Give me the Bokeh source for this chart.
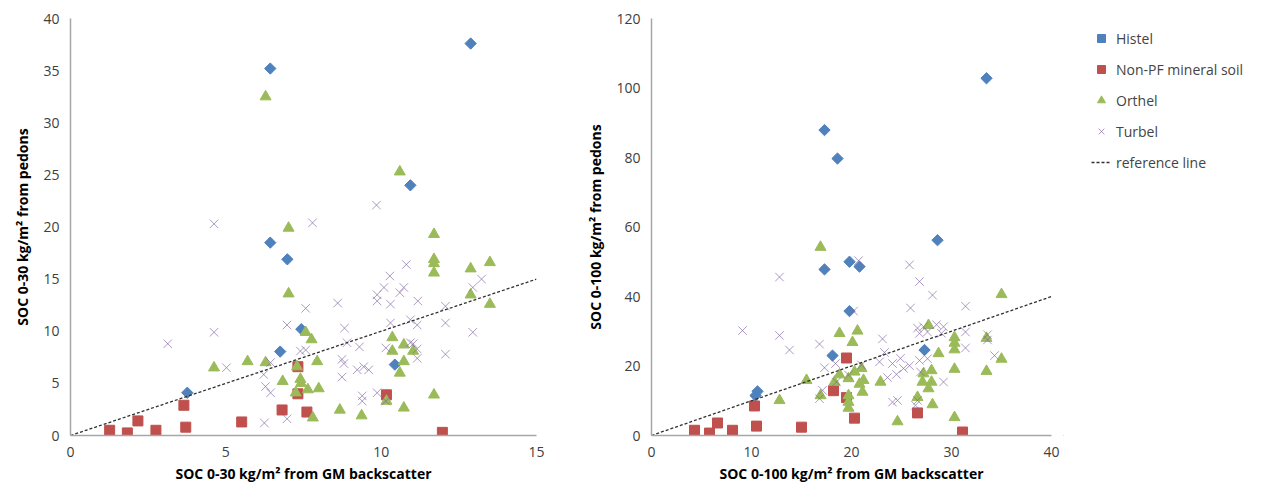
from math import pi
from bokeh.plotting import figure
from bokeh.layouts import row
from bokeh.models import Legend, LegendItem, FixedTicker
from bokeh.embed import file_html
from bokeh.resources import INLINE

# left panel: SOC 0-30 cm
histel_30_x = [6.43, 12.88, 10.94, 6.43, 6.98, 7.43, 6.75, 3.76, 10.44]
histel_30_y = [35.2, 37.6, 24.0, 18.5, 16.9, 10.2, 8.05, 4.1, 6.8]
nonpf_30_x = [1.26, 1.83, 2.17, 2.75, 3.65, 3.71, 5.51, 6.81, 7.61, 7.32, 7.32, 10.17, 11.97]
nonpf_30_y = [0.5, 0.25, 1.4, 0.5, 2.9, 0.8, 1.3, 2.45, 2.25, 6.6, 4.0, 3.9, 0.3]
orthel_30_x = [6.28, 10.6, 7.02, 11.7, 11.7, 11.7, 11.7, 12.88, 13.5, 12.88, 13.5, 7.02, 7.57, 7.76,
               4.62, 5.70, 6.28, 7.29, 7.40, 7.42, 6.83, 7.64, 7.25, 7.99, 7.94, 7.8, 8.67, 9.37,
               10.17, 10.73, 11.7, 10.36, 10.73, 11.03, 10.36, 10.73, 10.6]
orthel_30_y = [32.5, 25.3, 19.9, 19.3, 16.9, 16.5, 15.6, 16.0, 16.6, 13.5, 12.6, 13.6, 9.9, 9.2,
               6.5, 7.1, 7.0, 6.6, 5.4, 5.0, 5.2, 4.4, 4.1, 4.5, 7.1, 1.7, 2.45, 1.9,
               3.3, 2.65, 3.9, 9.4, 8.7, 8.1, 8.1, 7.1, 6.0]
turbel_30_x = [4.62, 7.79, 9.85, 3.13, 4.62, 5.02, 10.81, 10.28, 10.09, 10.73, 10.6, 9.87, 9.87, 10.3,
               11.18, 12.07, 12.95, 13.23, 8.6, 7.57, 6.97, 8.82, 10.3, 10.94, 11.16, 12.07, 12.95,
               8.9, 9.3, 10.15, 10.94, 11.16, 12.07, 7.40, 7.57, 6.44, 6.22, 6.28, 6.44, 8.74, 8.8,
               9.23, 9.44, 9.6, 8.74, 9.39, 9.39, 9.87, 10.15, 6.24, 6.97, 11.16, 11.03]
turbel_30_y = [20.3, 20.4, 22.1, 8.8, 9.9, 6.5, 16.4, 15.3, 14.2, 14.2, 13.7, 13.5, 12.9, 12.6,
               12.9, 12.4, 14.2, 15.0, 12.7, 12.2, 10.6, 10.3, 10.8, 11.1, 10.6, 10.8, 9.9,
               8.9, 8.5, 8.4, 8.9, 8.3, 7.8, 8.1, 8.2, 7.0, 5.85, 4.7, 4.1, 7.3, 6.9,
               6.3, 6.6, 6.3, 5.6, 3.8, 3.3, 4.1, 3.3, 1.2, 1.6, 7.4, 8.8]

# right panel: SOC 0-100 cm
histel_100_x = [33.5, 17.3, 18.6, 28.6, 19.8, 20.8, 17.3, 19.8, 18.1, 27.3, 10.6, 10.4]
histel_100_y = [102.8, 87.9, 79.7, 56.2, 50.0, 48.6, 47.8, 35.8, 23.0, 24.6, 12.7, 11.5]
nonpf_100_x = [4.3, 5.8, 6.6, 8.1, 10.3, 10.5, 15.0, 19.5, 18.2, 19.5, 20.3, 26.6, 31.1]
nonpf_100_y = [1.5, 0.7, 3.6, 1.5, 8.5, 2.7, 2.4, 22.3, 12.9, 10.9, 5.0, 6.5, 1.0]
orthel_100_x = [16.9, 35.0, 27.7, 18.8, 20.6, 20.1, 30.3, 30.3, 30.3, 33.5, 28.7, 35.0, 30.3, 33.5,
                15.5, 12.8, 16.9, 18.3, 18.8, 19.7, 19.7, 19.7, 19.7, 20.3, 21.0, 21.2, 20.8, 21.1,
                22.9, 24.6, 26.6, 27.2, 28.0, 27.1, 28.0, 27.7, 28.1, 30.3]
orthel_100_y = [54.2, 40.6, 31.7, 29.4, 30.1, 26.8, 28.2, 26.6, 24.7, 28.0, 23.6, 22.0, 19.1, 18.5,
                15.9, 10.1, 11.5, 15.4, 17.5, 16.4, 11.5, 9.6, 7.9, 18.3, 19.3, 15.9, 14.8, 12.5,
                15.4, 4.0, 11.0, 17.8, 18.7, 15.4, 15.4, 13.5, 8.9, 5.2]
turbel_100_x = [12.8, 9.1, 12.8, 13.8, 16.8, 20.7, 25.8, 26.8, 28.1, 25.9, 31.4, 20.2, 26.6, 27.2,
                28.5, 29.2, 26.8, 27.6, 29.0, 31.4, 33.6, 33.6, 31.4, 34.3, 23.1, 23.3, 22.8, 24.1,
                24.9, 25.2, 25.8, 24.5, 23.6, 26.8, 27.6, 26.9, 17.3, 18.4, 18.5, 17.1, 16.8, 19.7,
                21.0, 29.2, 24.1, 24.6, 26.6, 26.4]
turbel_100_y = [45.6, 30.2, 28.8, 24.6, 26.3, 50.3, 49.1, 44.3, 40.4, 36.7, 37.2, 35.8, 30.9, 31.3,
                31.9, 31.3, 29.4, 29.8, 29.4, 29.8, 29.0, 27.5, 25.2, 23.0, 27.8, 23.9, 21.2, 20.7,
                22.2, 19.3, 20.1, 17.6, 16.7, 21.6, 22.1, 18.3, 19.5, 20.7, 15.4, 13.0, 10.6, 17.4,
                20.3, 15.4, 9.6, 10.1, 10.1, 8.7]

labels = ["Histel", "Non-PF mineral soil", "Orthel", "Turbel", "reference line"]

FONT = "Open Sans"
BLUE, RED, GREEN, PURPLE = "#4F81BD", "#C0504D", "#9BBB59", "#8064A2"


def make_fig(xmax, ymax, xstep, ystep, xlabel, ylabel, width, left, right):
    p = figure(width=width, height=489, x_range=(0, xmax), y_range=(0, ymax),
               output_backend="svg", toolbar_location=None,
               min_border_left=left, min_border_right=right,
               min_border_top=18, min_border_bottom=54)
    p.outline_line_color = None
    p.grid.visible = False
    p.xaxis.ticker = FixedTicker(ticks=list(range(0, xmax + 1, xstep)))
    p.yaxis.ticker = FixedTicker(ticks=list(range(0, ymax + 1, ystep)))
    for ax in (p.xaxis, p.yaxis):
        ax.axis_line_color = "#A6A6A6"
        ax.axis_line_width = 1.5
        ax.major_tick_line_color = None
        ax.minor_tick_line_color = None
        ax.major_label_text_font = FONT
        ax.major_label_text_font_size = "14px"
        ax.major_label_text_color = "#404040"
        ax.axis_label_text_font = FONT
        ax.axis_label_text_font_size = "14px"
        ax.axis_label_text_font_style = "bold"
        ax.axis_label_text_color = "#000000"
    p.xaxis.axis_label = xlabel
    p.yaxis.axis_label = ylabel
    p.xaxis.axis_label_standoff = 4
    p.yaxis.axis_label_standoff = 8
    return p


def draw(p, hx, hy, nx, ny, ox, oy, tx, ty, lim):
    r1 = p.scatter(hx, hy, marker="square", size=8, angle=pi / 4, color=BLUE)
    r2 = p.scatter(nx, ny, marker="square", size=10, color=RED)
    r3 = p.scatter(ox, oy, marker="triangle", size=11, color=GREEN)
    r4 = p.scatter(tx, ty, marker="x", size=12, line_color=PURPLE, line_alpha=0.65, line_width=1)
    r5 = p.line([0, lim], [0, lim], line_color="#303030", line_dash="3 2", line_width=1.3)
    return [r1, r2, r3, r4, r5]


p1 = make_fig(15, 40, 5, 5, "SOC 0-30 kg/m² from GM backscatter", "SOC 0-30 kg/m² from pedons",
              583, 70, 47)
draw(p1, histel_30_x, histel_30_y, nonpf_30_x, nonpf_30_y, orthel_30_x, orthel_30_y,
     turbel_30_x, turbel_30_y, 15)

p2 = make_fig(40, 120, 10, 20, "SOC 0-100 kg/m² from GM backscatter", "SOC 0-100 kg/m² from pedons",
              480, 58, 12)
draw(p2, histel_100_x, histel_100_y, nonpf_100_x, nonpf_100_y, orthel_100_x, orthel_100_y,
     turbel_100_x, turbel_100_y, 40)

# legend panel: off-screen points only carry the legend symbols
pl = figure(width=190, height=489, x_range=(0, 1), y_range=(0, 1),
            output_backend="svg", toolbar_location=None, min_border=0)
pl.axis.visible = False
pl.grid.visible = False
pl.outline_line_color = None
off = [-5]
lr = draw(pl, off, off, off, off, off, off, off, off, -5)
legend = Legend(items=[LegendItem(label=l, renderers=[r]) for l, r in zip(labels, lr)],
                border_line_color=None, background_fill_alpha=0,
                label_text_font=FONT, label_text_font_size="14px", spacing=11,
                glyph_width=20, margin=0, padding=0)
legend.location = (28, 263)
pl.add_layout(legend)

layout = row(p1, p2, pl)
open("out.html", "w").write(file_html(layout, INLINE))
